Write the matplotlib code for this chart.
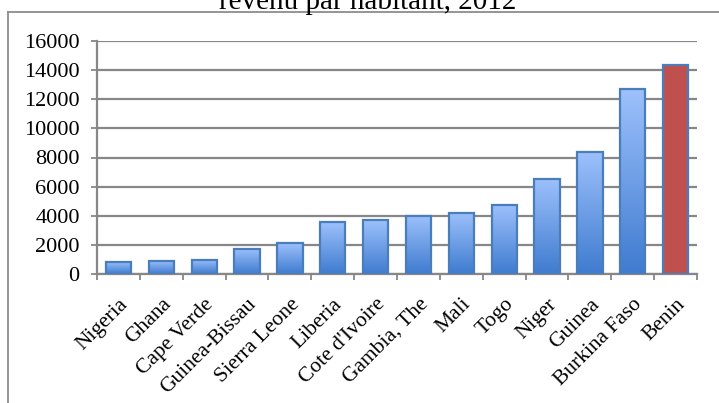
import numpy as np
import matplotlib
matplotlib.use("Agg")
import matplotlib.pyplot as plt
from matplotlib.colors import LinearSegmentedColormap
from matplotlib.lines import Line2D

countries = ["Nigeria", "Ghana", "Cape Verde", "Guinea-Bissau", "Sierra Leone",
             "Liberia", "Cote d'Ivoire", "Gambia, The", "Mali", "Togo", "Niger",
             "Guinea", "Burkina Faso", "Benin"]
values = [850, 920, 990, 1750, 2100, 3550, 3700, 4000, 4200, 4750, 6550,
          8400, 12700, 14350]
highlight = "Benin"
title = "revenu par habitant, 2012"
yticks = [0, 2000, 4000, 6000, 8000, 10000, 12000, 14000, 16000]

plt.rcParams["font.family"] = ["Liberation Serif", "DejaVu Serif"]

W, H = 719, 403
fig = plt.figure(figsize=(W / 100, H / 100), dpi=100)
ax = fig.add_axes([97 / W, 1 - 274 / H, 600 / W, 233 / H])

grid_c = "#878787"
edge_c = "#4A7EBB"
grad = LinearSegmentedColormap.from_list("blue_grad", ["#3F7BCF", "#9DC1FC"])
gradient = np.linspace(0, 1, 256).reshape(-1, 1)

x = np.arange(len(countries))
width = 0.59
bars = ax.bar(x, values, width=width, facecolor="none", edgecolor=edge_c,
              linewidth=1.6, zorder=3)
for name, bar in zip(countries, bars):
    x0, w, h = bar.get_x(), bar.get_width(), bar.get_height()
    if name == highlight:
        bar.set_facecolor("#C0504D")
    else:
        im = ax.imshow(gradient, cmap=grad, origin="lower", aspect="auto",
                       extent=[x0, x0 + w, 0, h], zorder=2)
        im.set_clip_path(bar)

ax.set_xlim(-0.5, len(countries) - 0.5)
ax.set_ylim(0, 16000)
ax.set_yticks(yticks)
ax.set_yticklabels([str(v) for v in yticks], fontsize=16)
ax.yaxis.grid(True, color=grid_c, linewidth=1.6)
ax.set_axisbelow(True)

ax.set_xticks(x)
ax.set_xticklabels(countries, fontsize=15.5, rotation=45, ha="right",
                   rotation_mode="anchor")
ax.tick_params(axis="x", which="major", length=0, pad=15)
ax.set_xticks(np.arange(-0.5, len(countries)), minor=True)
ax.tick_params(axis="x", which="minor", length=4.5, width=1.3, color=grid_c,
               direction="out")
ax.tick_params(axis="y", length=4.5, width=1.3, color=grid_c, pad=8)

for s in ("top", "right"):
    ax.spines[s].set_visible(False)
for s in ("left", "bottom"):
    ax.spines[s].set_color(grid_c)
    ax.spines[s].set_linewidth(1.6)

# outer chart frame
fc = "#8C8C8C"
fig.add_artist(Line2D([8 / W, 1.0], [1 - 12 / H, 1 - 12 / H],
                      transform=fig.transFigure, color=fc, linewidth=1.3))
fig.add_artist(Line2D([8 / W, 8 / W], [1 - 12 / H, 0.0],
                      transform=fig.transFigure, color=fc, linewidth=1.3))

fig.text(368 / W, 1 - 9 / H, title, ha="center", va="baseline", fontsize=21)

fig.savefig("out.png", dpi=100)
